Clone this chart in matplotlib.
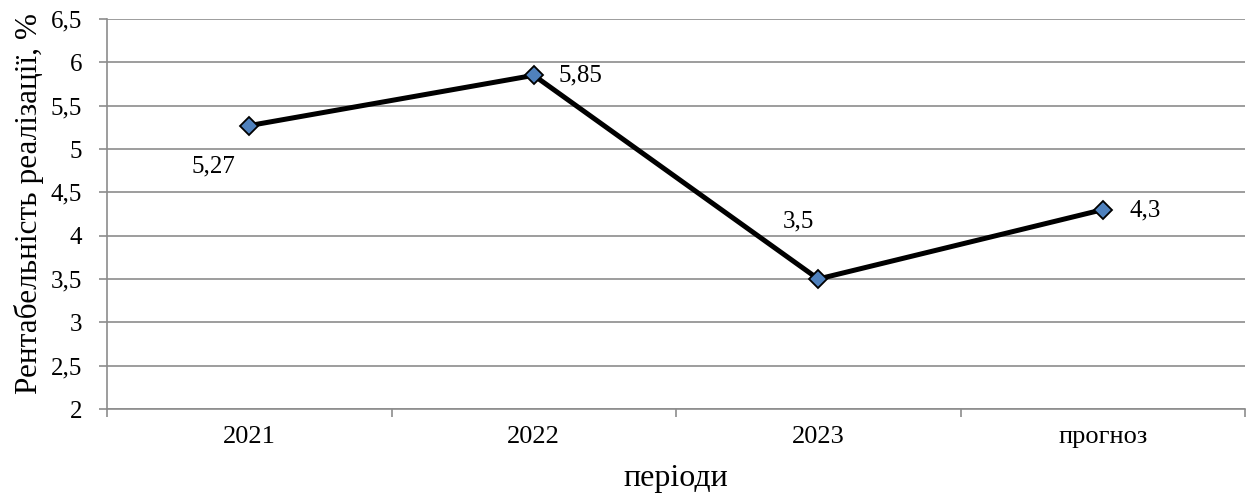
import matplotlib
matplotlib.use("Agg")
import matplotlib.pyplot as plt
import numpy as np

categories = ["2021", "2022", "2023", "прогноз"]
values = [5.27, 5.85, 3.5, 4.3]
value_labels = ["5,27", "5,85", "3,5", "4,3"]
yticks = [2, 2.5, 3, 3.5, 4, 4.5, 5, 5.5, 6, 6.5]
ytick_labels = ["2", "2,5", "3", "3,5", "4", "4,5", "5", "5,5", "6", "6,5"]

plt.rcParams['font.family'] = ['Liberation Serif', 'DejaVu Serif']

fig = plt.figure(figsize=(12.53, 5.01), dpi=100)
ax = fig.add_axes([107/1253, 1 - 409/501, (1245 - 107)/1253, (409 - 19)/501])

x = np.arange(len(categories))
ax.plot(x, values, color="black", lw=3.6, marker="D", markersize=9,
        markerfacecolor="#4F81BD", markeredgecolor="black", markeredgewidth=1.3, zorder=3)

ax.set_xlim(-0.5, len(categories) - 0.5)
ax.set_ylim(2, 6.5)
ax.set_yticks(yticks)
ax.set_yticklabels(ytick_labels, fontsize=18)
ax.yaxis.grid(True, color="#8c8c8c", lw=1.2)
ax.set_axisbelow(True)

ax.set_xticks(np.arange(-0.5, len(categories), 1.0))
ax.set_xticklabels([])
ax.set_xticks(x, minor=True)
ax.set_xticklabels(categories, minor=True, fontsize=19)
ax.tick_params(axis="x", which="major", length=5.5, color="#8c8c8c", width=1.2)
ax.tick_params(axis="x", which="minor", length=0, pad=12)
ax.tick_params(axis="y", length=5.5, color="#8c8c8c", width=1.2, pad=12.5)

for s in ["top", "right"]:
    ax.spines[s].set_visible(False)
for s in ["left", "bottom"]:
    ax.spines[s].set_color("#8c8c8c")
    ax.spines[s].set_linewidth(1.2)

offsets = [(-36, -41), (47, 0), (-20, 58), (42, -1)]
for xi, v, lab, (dx, dy) in zip(x, values, value_labels, offsets):
    ax.annotate(lab, (xi, v), xytext=(dx, dy), textcoords="offset pixels",
                ha="center", va="center", fontsize=18)

ax.set_ylabel("Рентабельність реалізації, %", fontsize=22.5)
ax.yaxis.set_label_coords(-0.0554, 0.526)
ax.set_xlabel("періоди", fontsize=23)
ax.xaxis.set_label_coords(0.5, -0.141)

fig.savefig("out.png", dpi=100)
